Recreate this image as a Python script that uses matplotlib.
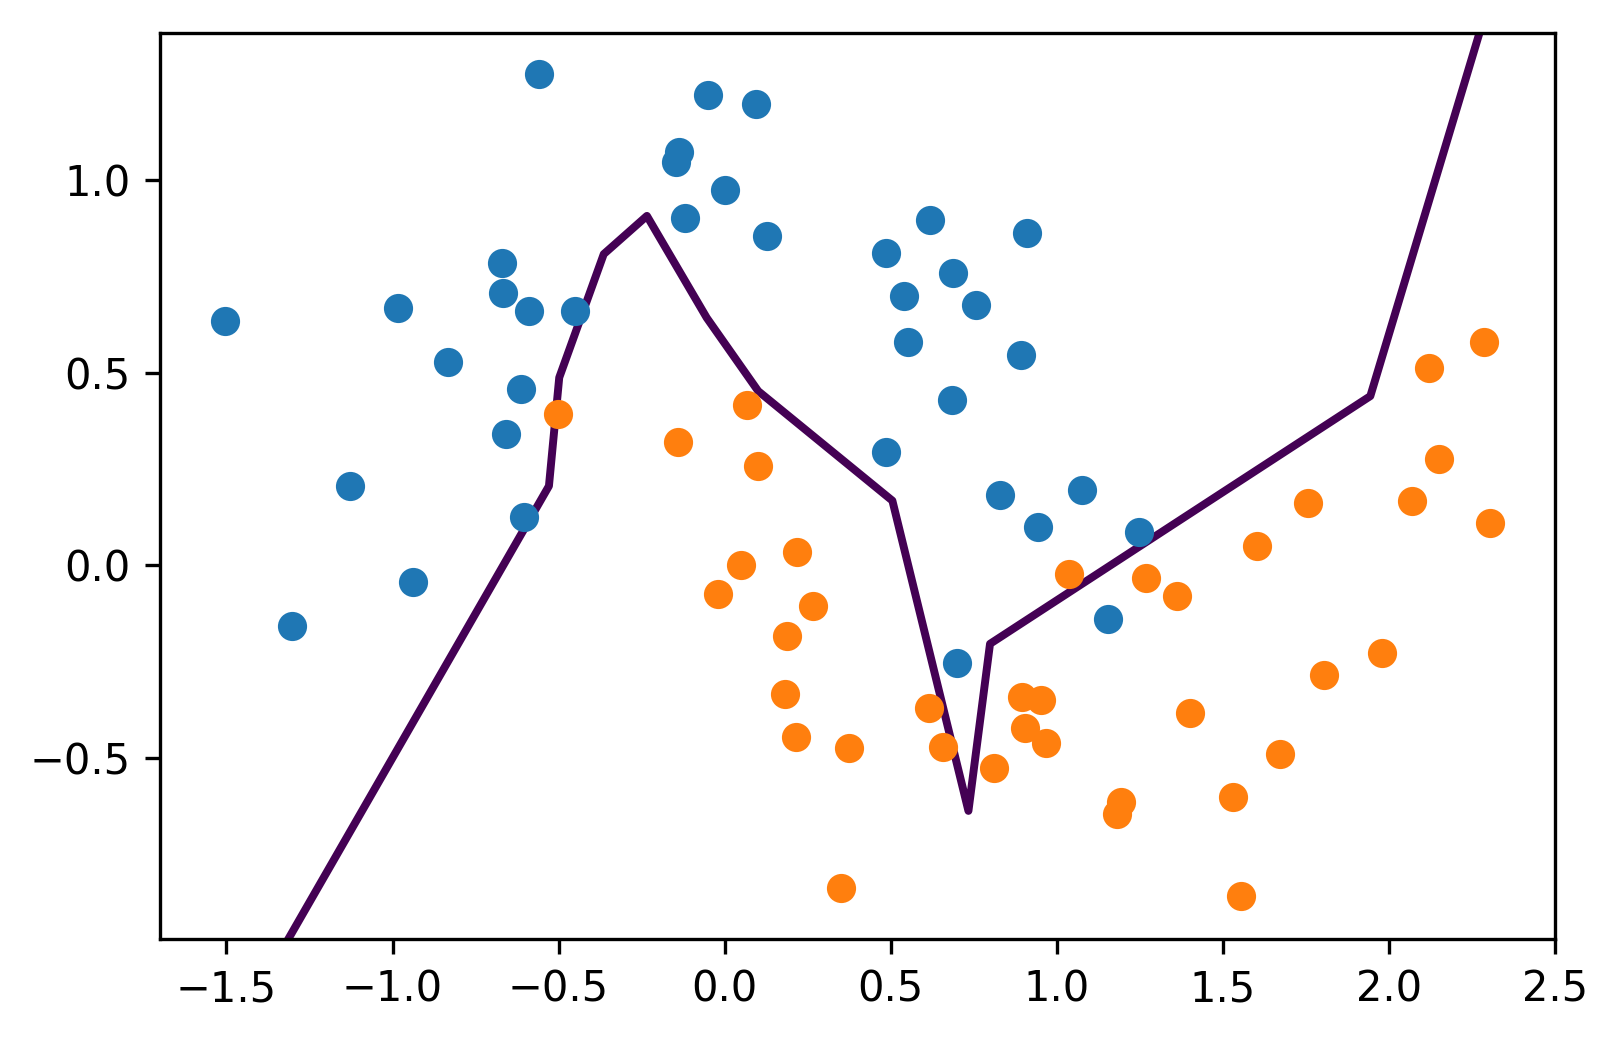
import matplotlib
matplotlib.use("Agg")
import matplotlib.pyplot as plt
import numpy as np

# Class 0 (blue)
blue_x = [-1.503, -1.304, -1.128, -0.982, -0.938, -0.833, -0.671, -0.668, -0.588, -0.659,
          -0.612, -0.603, -0.451, -0.560, -0.147, -0.138, -0.119, -0.051, 0.002, 0.095,
          0.129, 0.486, 0.539, 0.551, 0.619, 0.688, 0.756, 0.685, 0.486, 0.911,
          0.893, 0.830, 0.942, 1.076, 1.249, 1.153, 0.700]
blue_y = [0.634, -0.158, 0.206, 0.668, -0.043, 0.527, 0.783, 0.706, 0.660, 0.340,
          0.457, 0.126, 0.660, 1.273, 1.045, 1.072, 0.901, 1.219, 0.973, 1.195,
          0.853, 0.810, 0.698, 0.580, 0.896, 0.759, 0.674, 0.428, 0.294, 0.861,
          0.545, 0.182, 0.099, 0.195, 0.088, -0.139, -0.254]

# Class 1 (orange)
orange_x = [-0.501, -0.141, 0.067, 0.101, 0.049, -0.020, 0.219, 0.266, 0.188, 0.182,
            0.216, 0.374, 0.349, 0.616, 0.657, 0.812, 0.896, 0.952, 0.905, 0.967,
            1.038, 1.268, 1.361, 1.401, 1.194, 1.181, 1.532, 1.554, 1.671, 1.603,
            1.755, 1.805, 1.979, 2.069, 2.121, 2.152, 2.286, 2.304]
orange_y = [0.393, 0.321, 0.417, 0.259, 0.000, -0.075, 0.035, -0.104, -0.184, -0.332,
            -0.444, -0.473, -0.837, -0.369, -0.471, -0.524, -0.342, -0.348, -0.422, -0.460,
            -0.021, -0.032, -0.080, -0.382, -0.612, -0.644, -0.599, -0.856, -0.489, 0.051,
            0.163, -0.283, -0.227, 0.168, 0.511, 0.275, 0.580, 0.110]

# Decision boundary polyline
boundary_x = [-1.335, -0.529, -0.498, -0.364, -0.234, -0.054, 0.101, 0.505, 0.734, 0.799, 1.944, 2.297]
boundary_y = [-1.000, 0.206, 0.487, 0.807, 0.906, 0.642, 0.452, 0.168, -0.636, -0.203, 0.439, 1.450]

fig = plt.figure(figsize=(1618/300, 1040/300), dpi=300)
ax = fig.add_axes([160/1618, 1 - 939/1040, (1555-160)/1618, (939-33)/1040])

ax.plot(boundary_x, boundary_y, color="#440154", lw=1.9, zorder=1)
ax.scatter(blue_x, blue_y, color="#1f77b4", s=36, zorder=2)
ax.scatter(orange_x, orange_y, color="#ff7f0e", s=36, zorder=2)

ax.set_xlim(-1.7, 2.5)
ax.set_ylim(-0.968, 1.380)
ax.set_xticks([-1.5, -1.0, -0.5, 0.0, 0.5, 1.0, 1.5, 2.0, 2.5])
ax.set_yticks([-0.5, 0.0, 0.5, 1.0])

fig.savefig("out.png", dpi=300)
